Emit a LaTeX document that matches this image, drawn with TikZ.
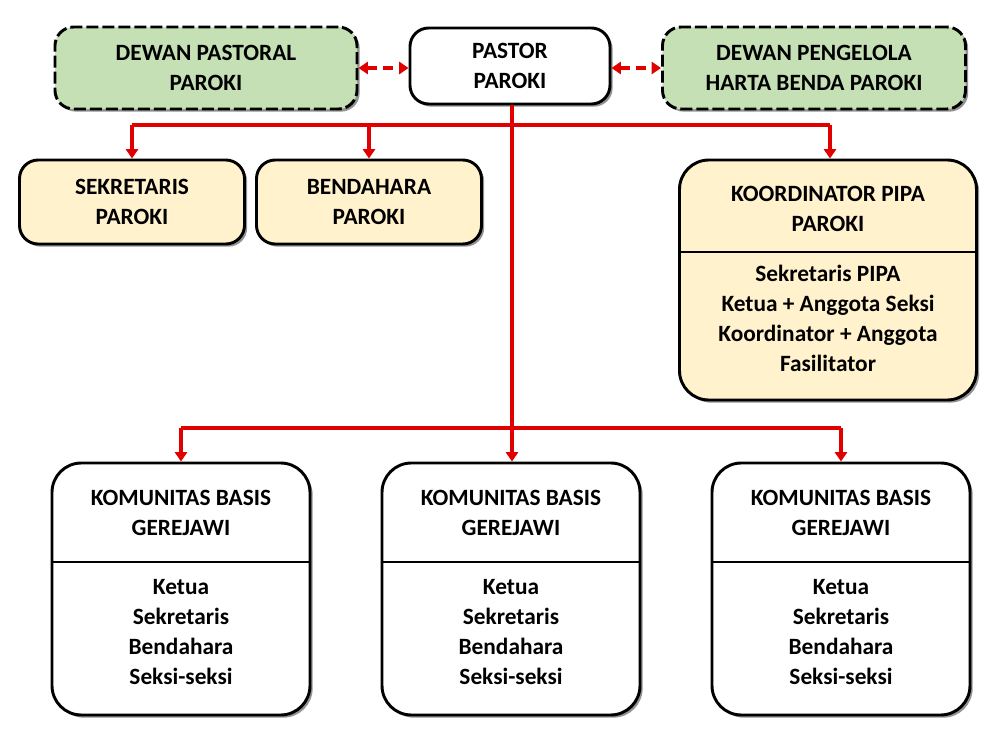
\documentclass[tikz,border=0pt]{standalone}
\usepackage{fontspec}
\setmainfont{Carlito}
\usetikzlibrary{shadows,arrows.meta}
\definecolor{grn}{HTML}{C5E0B4}
\definecolor{yel}{HTML}{FFF2CC}
\definecolor{rd}{HTML}{E00000}
\tikzset{
 box/.style={draw=black,line width=2.2pt,rounded corners=14pt,align=center,font=\bfseries\fontsize{17.5}{22}\selectfont,
   drop shadow={shadow xshift=2pt,shadow yshift=-2pt,fill=black!60,opacity=.7}},
 dbox/.style={box,dash pattern=on 9pt off 3pt},
 conn/.style={draw=rd,line width=2.5pt},
 arr/.style={conn,-{Triangle[length=7pt,width=9pt]}},
 darr/.style={conn,dash pattern=on 7pt off 5pt,{Triangle[length=7pt,width=9pt]}-{Triangle[length=7pt,width=9pt]}},
 lbl/.style={align=center,font=\bfseries\fontsize{17.5}{22.5}\selectfont}
}
\begin{document}
\begin{tikzpicture}[x=0.75pt,y=-0.75pt]
\useasboundingbox[fill=white] (0,0) rectangle (1000,745);
\node[dbox,fill=grn,minimum width=302*0.75pt,minimum height=82*0.75pt] (dp) at (206,68) {DEWAN PASTORAL\\PAROKI};
\node[box,fill=white,minimum width=200*0.75pt,minimum height=76*0.75pt] (ps) at (510,66) {PASTOR\\PAROKI};
\node[dbox,fill=grn,minimum width=303*0.75pt,minimum height=82*0.75pt] (dh) at (814,68) {DEWAN PENGELOLA\\HARTA BENDA PAROKI};
\node[box,fill=yel,minimum width=225*0.75pt,minimum height=84*0.75pt] (sk) at (132,202) {SEKRETARIS\\PAROKI};
\node[box,fill=yel,minimum width=225*0.75pt,minimum height=84*0.75pt] (bd) at (369,202) {BENDAHARA\\PAROKI};
\node[box,fill=yel,rounded corners=22pt,minimum width=297*0.75pt,minimum height=240*0.75pt] (ko) at (828,280) {};
\draw[line width=1pt] (680,252) -- (977,252);
\node[lbl] (kot) at (828,209) {KOORDINATOR PIPA\\PAROKI};
\node[lbl] (kob) at (828,318) {Sekretaris PIPA\\Ketua + Anggota Seksi\\Koordinator + Anggota\\Fasilitator};
\foreach \n/\cx in {k1/181,k2/511,k3/841}{
 \node[box,fill=white,rounded corners=22pt,minimum width=258*0.75pt,minimum height=252*0.75pt] (\n) at (\cx,589) {};
 \draw[line width=1pt] (\cx-129,562) -- (\cx+129,562);
 \node[lbl] (\n t) at (\cx,513) {KOMUNITAS BASIS\\GEREJAWI};
 \node[lbl] (\n b) at (\cx,632) {Ketua\\Sekretaris\\Bendahara\\Seksi-seksi};
}
\coordinate (h1) at (132,125); \coordinate (h2) at (830,125); \coordinate (hm) at (512,125);
\coordinate (l1) at (181,428); \coordinate (l3) at (841,428); \coordinate (lm) at (512,428);
\draw[conn] (h1) -- (h2);
\draw[conn] (ps.south -| hm) -- (lm);
\draw[conn] (l1) -- (l3);
\draw[arr] (h1) -- (sk.north);
\draw[arr] (369,125) -- (bd.north);
\draw[arr] (h2) -- (ko.north -| h2);
\draw[arr] (l1) -- (k1.north);
\draw[arr] (lm) -- (k2.north -| lm);
\draw[arr] (l3) -- (k3.north);
\draw[darr] (dp.east) -- (ps.west |- dp.east);
\draw[darr] (ps.east |- dh.west) -- (dh.west);
\end{tikzpicture}
\end{document}
